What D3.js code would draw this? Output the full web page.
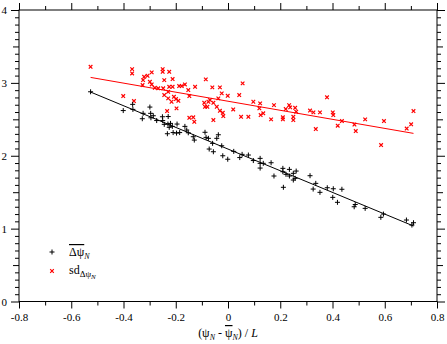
<!DOCTYPE html>
<meta charset="utf-8">
<head>
	<title>psi scatter</title>
</head>
<style>
	body { margin: 0; background: #fff; }
	svg text { font-family: "Liberation Serif", "Times New Roman", serif; fill: #000; }
	.axis text { font-size: 11px; font-family: "Liberation Serif", "Times New Roman", serif; }
	.axis line { stroke: #000; }
</style>
<body>
<div id="chart"></div>
<script src="https://d3js.org/d3.v7.min.js"></script>
<script>

// mean delta psi_N (black +)
var meanX = [-0.526,-0.401,-0.365,-0.364,-0.328,-0.325,-0.299,-0.296,-0.295,-0.286,-0.273,-0.251,-0.250,-0.229,-0.244,-0.230,-0.220,-0.213,-0.195,-0.232,-0.225,-0.210,-0.197,-0.185,-0.165,-0.158,-0.152,-0.133,-0.129,-0.088,-0.084,-0.075,-0.043,-0.037,-0.059,-0.072,-0.056,-0.024,-0.020,-0.001,0.022,0.045,0.054,0.078,0.097,0.123,0.123,0.123,0.135,0.165,0.176,0.210,0.210,0.212,0.222,0.235,0.235,0.250,0.250,0.261,0.257,0.314,0.336,0.326,0.352,0.380,0.403,0.401,0.419,0.436,0.487,0.483,0.525,0.585,0.595,0.683,0.704,0.710];
var meanY = [2.878,2.620,2.705,2.636,2.508,2.582,2.668,2.582,2.521,2.549,2.483,2.535,2.483,2.538,2.431,2.435,2.444,2.403,2.435,2.302,2.390,2.318,2.311,2.318,2.403,2.353,2.315,2.261,2.215,2.322,2.252,2.239,2.239,2.288,2.170,2.092,2.055,2.137,2.000,1.952,2.060,1.975,2.019,2.010,1.934,1.964,1.896,1.831,1.896,1.904,1.722,1.827,1.781,1.567,1.745,1.813,1.722,1.759,1.667,1.790,1.690,1.726,1.621,1.543,1.498,1.561,1.547,1.429,1.361,1.540,1.331,1.300,1.278,1.155,1.200,1.118,1.049,1.081];

// sd of delta psi_N (red x)
var sdX = [-0.526,-0.367,-0.367,-0.292,-0.250,-0.250,-0.225,-0.308,-0.321,-0.325,-0.299,-0.244,-0.212,-0.292,-0.327,-0.280,-0.267,-0.248,-0.225,-0.212,-0.187,-0.177,-0.165,-0.126,-0.152,-0.229,-0.244,-0.148,-0.229,-0.207,-0.199,-0.216,-0.190,-0.401,-0.360,-0.233,-0.197,-0.148,-0.133,-0.129,-0.085,-0.060,-0.031,0.056,-0.024,-0.001,0.043,-0.037,-0.091,-0.069,-0.075,-0.088,-0.079,-0.056,-0.043,-0.031,-0.020,-0.018,0.020,-0.056,0.050,0.078,0.097,0.123,0.120,0.135,0.125,0.176,0.165,0.210,0.210,0.221,0.234,0.238,0.257,0.261,0.250,0.250,0.314,0.327,0.352,0.336,0.379,0.401,0.403,0.420,0.436,0.484,0.489,0.525,0.597,0.586,0.684,0.701,0.710];
var sdY = [3.221,3.189,3.130,3.144,3.189,3.152,3.152,3.097,3.084,3.038,3.015,3.038,3.052,2.979,2.970,2.933,2.925,2.925,2.946,2.946,2.956,2.956,2.979,2.946,2.901,2.878,2.833,2.819,2.787,2.809,2.778,2.741,2.754,2.819,2.750,2.613,2.650,2.521,2.527,2.466,3.048,2.938,2.938,2.993,2.856,2.823,2.833,2.787,2.727,2.764,2.741,2.672,2.672,2.727,2.672,2.617,2.590,2.545,2.636,2.490,2.535,2.535,2.741,2.719,2.650,2.582,2.558,2.695,2.499,2.527,2.499,2.641,2.695,2.664,2.658,2.604,2.535,2.490,2.620,2.595,2.595,2.366,2.802,2.595,2.558,2.412,2.476,2.428,2.339,2.499,2.476,2.147,2.373,2.431,2.613];

// fitted lines (end points)
var fitX = [-0.526, 0.71];
var meanFit = [2.874, 1.036];
var sdFit = [3.075, 2.307];

var xMajor = [-0.8,-0.6,-0.4,-0.2,0,0.2,0.4,0.6,0.8];
var xMinor = [-0.7,-0.5,-0.3,-0.1,0.1,0.3,0.5,0.7];
var yMajor = [0,1,2,3,4];
var yMid = [0.5,1.5,2.5,3.5];
var yMinor = d3.range(0, 41).map(function(i) { return i / 10; }).filter(function(v) { return Math.round(v * 10) % 5 != 0; });

var width = 447, height = 344;
var plotL = 19, plotR = 437, plotT = 10, plotB = 301.5;

var svg = d3.select("#chart").append("svg")
	.attr("width", width)
	.attr("height", height);

var x = d3.scaleLinear().domain([-0.8, 0.8]).range([plotL, plotR]);
var y = d3.scaleLinear().domain([0, 4]).range([plotB, plotT]);

function fmt(d) { return d == 0 ? "0" : d3.format(".1f")(d).replace("\u2212", "-"); }

function addAxis(axis, tr) {
	var g = svg.append("g").attr("class", "axis").attr("transform", tr).call(axis);
	g.select(".domain").remove();
	g.attr("font-family", null).attr("font-size", null);
	return g;
}

// bottom
addAxis(d3.axisBottom(x).tickValues(xMajor).tickSize(7).tickPadding(5).tickFormat(fmt), "translate(0," + plotB + ")");
addAxis(d3.axisBottom(x).tickValues(xMinor).tickSize(4).tickFormat(""), "translate(0," + plotB + ")");
// top
addAxis(d3.axisTop(x).tickValues(xMajor).tickSize(7).tickFormat(""), "translate(0," + plotT + ")");
addAxis(d3.axisTop(x).tickValues(xMinor).tickSize(4).tickFormat(""), "translate(0," + plotT + ")");
// left
addAxis(d3.axisLeft(y).tickValues(yMajor).tickSize(8).tickPadding(4).tickFormat(d3.format("d")), "translate(" + plotL + ",0)");
addAxis(d3.axisLeft(y).tickValues(yMid).tickSize(6).tickFormat(""), "translate(" + plotL + ",0)");
addAxis(d3.axisLeft(y).tickValues(yMinor).tickSize(4).tickFormat(""), "translate(" + plotL + ",0)");
// right
addAxis(d3.axisRight(y).tickValues(yMajor).tickSize(8).tickFormat(""), "translate(" + plotR + ",0)");
addAxis(d3.axisRight(y).tickValues(yMid).tickSize(6).tickFormat(""), "translate(" + plotR + ",0)");
addAxis(d3.axisRight(y).tickValues(yMinor).tickSize(4).tickFormat(""), "translate(" + plotR + ",0)");

svg.append("rect")
	.attr("x", plotL).attr("y", plotT)
	.attr("width", plotR - plotL).attr("height", plotB - plotT)
	.attr("fill", "none").attr("stroke", "#000");

var plus = "M-2.5,0H2.5M0,-2.5V2.5";
var cross = "M-1.8,-1.8L1.8,1.8M-1.8,1.8L1.8,-1.8";

svg.append("g").selectAll("path")
	.data(sdX)
	.enter().append("path")
	.attr("d", cross)
	.attr("transform", function(d, i) { return "translate(" + x(d) + "," + y(sdY[i]) + ")"; })
	.attr("stroke", "#ff0000")
	.attr("stroke-width", 1.2);

svg.append("g").selectAll("path")
	.data(meanX)
	.enter().append("path")
	.attr("d", plus)
	.attr("transform", function(d, i) { return "translate(" + x(d) + "," + y(meanY[i]) + ")"; })
	.attr("stroke", "#000")
	.attr("stroke-width", 1);

var line = d3.line()
	.x(function(d) { return x(d[0]); })
	.y(function(d) { return y(d[1]); });

svg.append("path")
	.datum(fitX.map(function(v, i) { return [v, meanFit[i]]; }))
	.attr("d", line).attr("fill", "none").attr("stroke", "#000");
svg.append("path")
	.datum(fitX.map(function(v, i) { return [v, sdFit[i]]; }))
	.attr("d", line).attr("fill", "none").attr("stroke", "#ff0000");

// legend
svg.append("path").attr("d", plus).attr("transform", "translate(52,252)").attr("stroke", "#000");
svg.append("path").attr("d", cross).attr("transform", "translate(52,271)").attr("stroke", "#ff0000").attr("stroke-width", 1.2);

var l1 = svg.append("text").attr("x", 69).attr("y", 256).style("font-size", "12px");
l1.append("tspan").style("text-decoration", "overline").text("\u0394\u03c8");
l1.append("tspan").attr("dy", 3).style("font-size", "8px").style("font-style", "italic").text("N");

var l2 = svg.append("text").attr("x", 69).attr("y", 274).style("font-size", "12px");
l2.append("tspan").text("sd");
l2.append("tspan").attr("dy", 3).style("font-size", "9px").text("\u0394\u03c8");
l2.append("tspan").attr("dy", 2).style("font-size", "7px").style("font-style", "italic").text("N");

// x title
var t = svg.append("text").attr("x", 228).attr("y", 337).attr("text-anchor", "middle").style("font-size", "12px");
t.append("tspan").text("(\u03c8");
t.append("tspan").attr("dy", 3).style("font-size", "8px").style("font-style", "italic").text("N");
t.append("tspan").attr("dy", -3).text("  -  ");
t.append("tspan").style("text-decoration", "overline").text("\u03c8");
t.append("tspan").attr("dy", 3).style("font-size", "8px").style("font-style", "italic").text("N");
t.append("tspan").attr("dy", -3).text(") / ");
t.append("tspan").style("font-style", "italic").text("L");

</script>
</body>
</html>
